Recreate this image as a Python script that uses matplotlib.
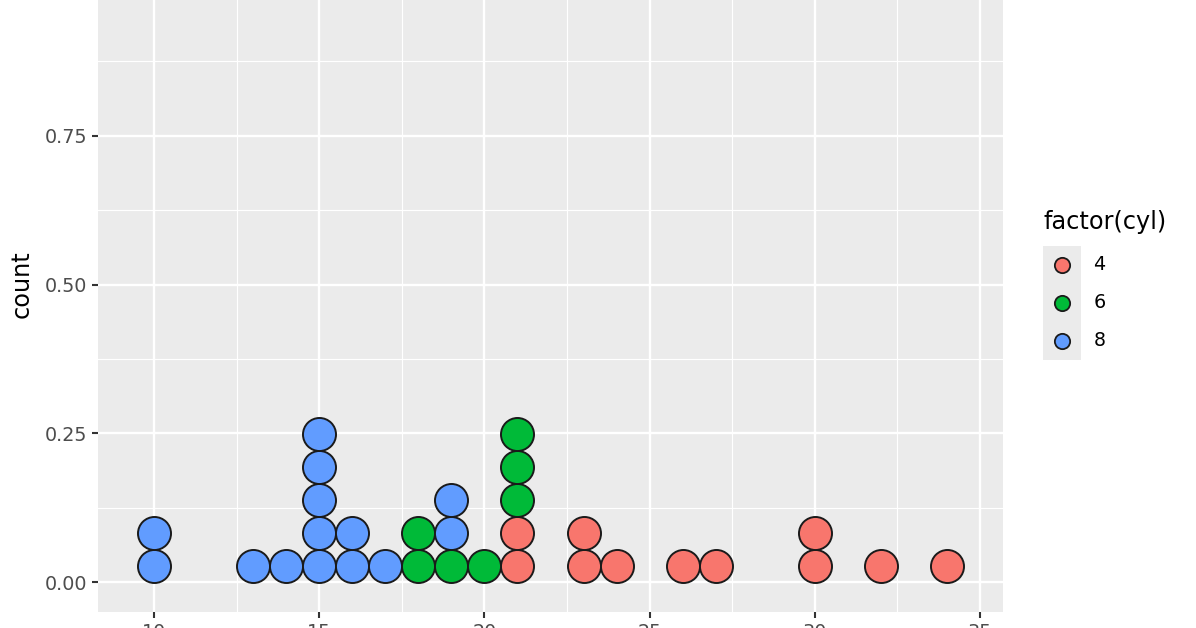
import matplotlib
matplotlib.use("Agg")
import matplotlib.pyplot as plt
import numpy as np

# bin centres (mpg) and dot counts per cylinder group
cyl_levels = ["4", "6", "8"]
cyl_colors = ["#F8766D", "#00BA38", "#619CFF"]
bins_4 = [21, 23, 24, 26, 27, 30, 32, 34]
count_4 = [2, 2, 1, 1, 1, 2, 1, 1]
bins_6 = [18, 19, 20, 21]
count_6 = [2, 1, 1, 3]
bins_8 = [10, 13, 14, 15, 16, 17, 19]
count_8 = [2, 1, 1, 5, 2, 1, 2]

xticks = [10, 15, 20, 25, 30, 35]
yticks = [0.0, 0.25, 0.50, 0.75, 1.00]
ytick_labels = ["0.00", "0.25", "0.50", "0.75", "1.00"]

W, H, DPI = 1196, 628, 100
fig = plt.figure(figsize=(W / DPI, H / DPI), dpi=DPI)

# panel geometry (px) -- top of panel is cropped off the image
left, right, bottom, top = 98, 1003, 612, -43
ax = fig.add_axes([left / W, (H - bottom) / H, (right - left) / W, (bottom - top) / H])
xmin, xmax = 8.30, 35.70
ymin, ymax = -0.05, 1.05
ax.set_xlim(xmin, xmax)
ax.set_ylim(ymin, ymax)
ax.set_facecolor("#EBEBEB")
for s in ax.spines.values():
    s.set_visible(False)

ax.set_xticks(xticks)
ax.set_xticks([12.5, 17.5, 22.5, 27.5, 32.5], minor=True)
ax.set_yticks(yticks)
ax.set_yticklabels(ytick_labels)
ax.set_yticks([0.125, 0.375, 0.625, 0.875], minor=True)
ax.grid(which="major", color="white", linewidth=1.7)
ax.grid(which="minor", color="white", linewidth=0.85)
ax.set_axisbelow(True)
ax.tick_params(which="major", length=4.3, width=1.5, color="#333333",
               labelsize=13.8, labelcolor="#4D4D4D", pad=3.5)
ax.tick_params(which="minor", length=0)
ax.set_ylabel("count", fontsize=17.3, color="black", labelpad=8)

# dot size: diameter = 1 mpg unit in pixels
px_per_x = (right - left) / (xmax - xmin)
px_per_y = (bottom - top) / (ymax - ymin)
dot_px = 1.0 * px_per_x
dy = dot_px / px_per_y
dot_pt = dot_px * 72 / DPI

groups = [(bins_4, count_4), (bins_6, count_6), (bins_8, count_8)]
stack = {}
for (bins, counts), col in zip(groups, cyl_colors):
    xs, ys = [], []
    for b, n in zip(bins, counts):
        base = stack.get(b, 0)
        for k in range(n):
            xs.append(b)
            ys.append((base + k + 0.5) * dy)
        stack[b] = base + n
    ax.scatter(xs, ys, s=dot_pt ** 2, c=col, edgecolors="#1a1a1a",
               linewidths=1.4, zorder=3, clip_on=False)

# legend drawn by hand in ggplot style
lx0, lx1, ly0, ly1 = 1043, 1081, 246, 360
lax = fig.add_axes([lx0 / W, (H - ly1) / H, (lx1 - lx0) / W, (ly1 - ly0) / H])
lax.set_facecolor("#EBEBEB")
lax.set_xlim(0, 1)
lax.set_ylim(len(cyl_levels), 0)
lax.set_xticks([])
lax.set_yticks([])
for s in lax.spines.values():
    s.set_visible(False)
for i, (lab, col) in enumerate(zip(cyl_levels, cyl_colors)):
    lax.scatter([0.5], [i + 0.5], s=11 ** 2, c=col, edgecolors="#1a1a1a",
                linewidths=1.3, clip_on=False)
    lax.text(1.33, i + 0.5, lab, fontsize=13.8, color="black",
             ha="left", va="center", clip_on=False)
fig.text(lx0 / W, (H - 222) / H, "factor(cyl)", fontsize=17.3,
         ha="left", va="center", color="black")

fig.savefig("out.png", dpi=DPI)
